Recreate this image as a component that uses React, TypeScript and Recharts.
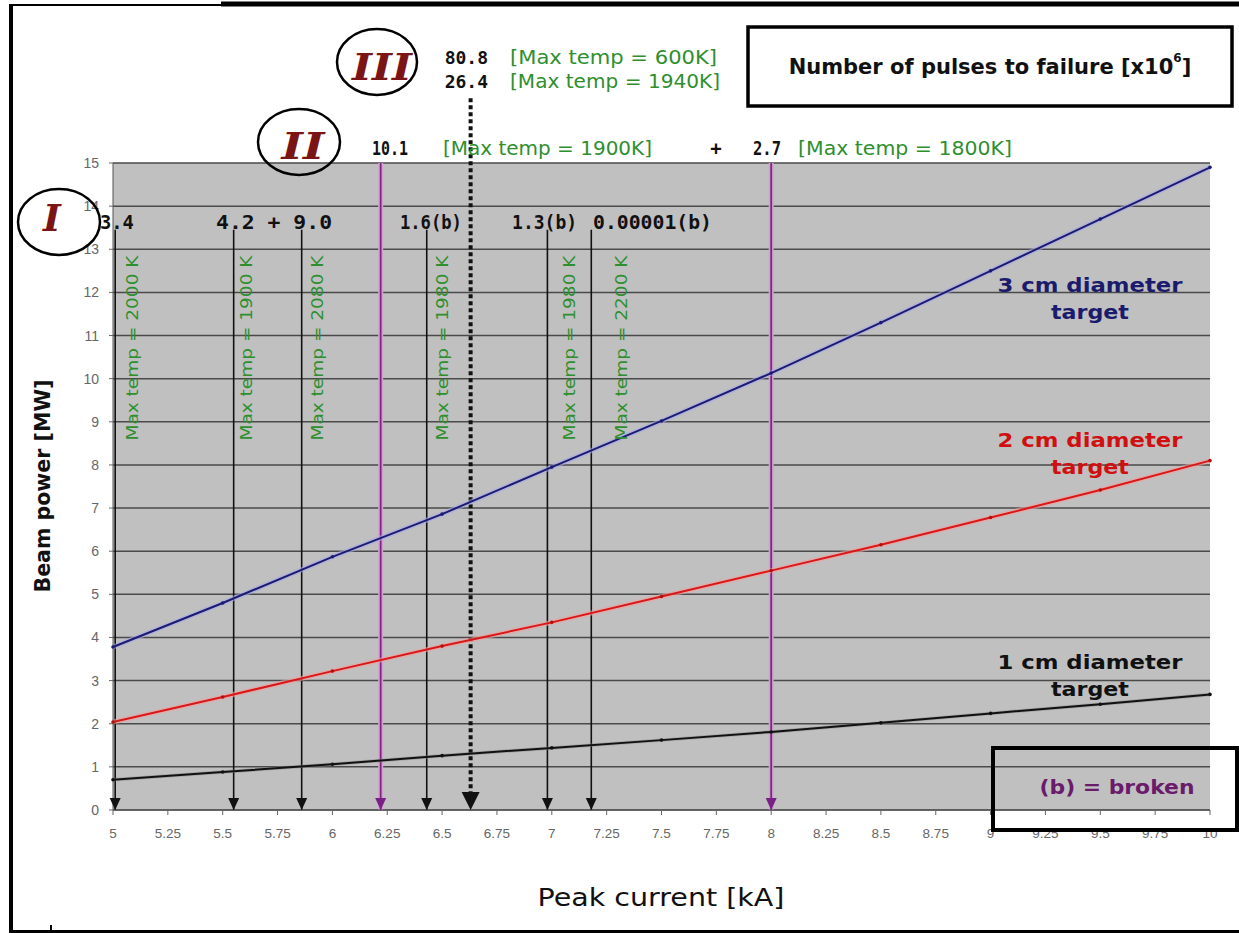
import React from 'react';
import { LineChart, Line, XAxis, YAxis, CartesianGrid, ReferenceLine, ReferenceDot } from 'recharts';

// ---- data ----
const currents = [5, 5.5, 6, 6.5, 7, 7.5, 8, 8.5, 9, 9.5, 10];
const power3cm = [3.78, 4.8, 5.87, 6.86, 7.95, 9.02, 10.13, 11.3, 12.5, 13.7, 14.9];
const power2cm = [2.04, 2.62, 3.22, 3.8, 4.35, 4.95, 5.55, 6.15, 6.78, 7.42, 8.1];
const power1cm = [0.7, 0.88, 1.06, 1.26, 1.44, 1.62, 1.81, 2.02, 2.24, 2.45, 2.68];

const xTicks = [5, 5.25, 5.5, 5.75, 6, 6.25, 6.5, 6.75, 7, 7.25, 7.5, 7.75, 8, 8.25, 8.5, 8.75, 9, 9.25, 9.5, 9.75, 10];
const xTickLabels = ['5', '5.25', '5.5', '5.75', '6', '6.25', '6.5', '6.75', '7', '7.25', '7.5', '7.75', '8', '8.25', '8.5', '8.75', '9', '9.25', '9.5', '9.75', '10'];
const yTicks = [0, 1, 2, 3, 4, 5, 6, 7, 8, 9, 10, 11, 12, 13, 14, 15];

// regime I failure currents (black arrows)
const regimeICurrents = [5.01, 5.55, 5.86, 6.43, 6.98, 7.18];
const regimeIArrowTop = 13.45;
const regimeILabelY = 13.63;
const regimeILabelCurrents = [5.018, 5.734, 6.449, 6.967, 7.459];
const regimeILabels = ['3.4', '4.2 + 9.0', '1.6(b)', '1.3(b)', '0.00001(b)'];
const regimeILabelWidths = [34, 116, 62, 65, 119];

// rotated max-temperature labels
const tempLabelCurrents = [5.087, 5.61, 5.93, 6.5, 7.08, 7.32];
const tempLabels = ['Max temp = 2000 K', 'Max temp = 1900 K', 'Max temp = 2080 K', 'Max temp = 1980 K', 'Max temp = 1980 K', 'Max temp = 2200 K'];
const tempLabelY = 10.71;

// regime II (purple) and III (dotted)
const regimeIICurrents = [6.22, 8.0];
const regimeIIICurrent = 6.63;
const regimeIIITop = 16.5;

// series labels
const seriesLabelX = 9.453;
const seriesLabelY = [12.17, 8.58, 3.43];
const seriesLabelColors = ['#1b1b6e', '#d01010', '#111111'];
const seriesLabelTexts = ['3 cm diameter', '2 cm diameter', '1 cm diameter'];

const rows = currents.map((c, i) => ({ current: c, p3: power3cm[i], p2: power2cm[i], p1: power1cm[i] }));

const GREEN = '#2e8f2e';
const COMIC = '"DejaVu Sans", sans-serif';
const MONO = '"DejaVu Sans Mono", monospace';

const arrowHead = (key: string, x: number, color: string, w: number, h: number) => (
  <ReferenceDot
    key={key}
    x={x}
    y={0}
    ifOverflow="visible"
    shape={(p: any) => (
      <polygon points={`${p.cx - w / 2},${p.cy - h} ${p.cx + w / 2},${p.cy - h} ${p.cx},${p.cy}`} fill={color} />
    )}
  />
);

export default function App() {
  return (
    <div style={{ position: 'absolute', left: 0, top: 0, width: 1239, height: 933, background: '#fff', overflow: 'hidden' }}>
      <LineChart width={1239} height={933} data={rows} margin={{ top: 163, right: 29, bottom: 93, left: 53 }}>
        <CartesianGrid vertical={false} fill="#c0c0c0" stroke="#4a4a4a" strokeWidth={1.5} />
        <XAxis
          type="number"
          dataKey="current"
          domain={[5, 10]}
          ticks={xTicks}
          interval={0}
          height={30}
          tickSize={5}
          tickMargin={13}
          tickFormatter={(v: number, i: number) => xTickLabels[i] ?? String(v)}
          tick={{ fontSize: 13.5, fill: '#666', fontFamily: '"Liberation Sans", Arial, sans-serif' }}
          axisLine={{ stroke: '#555' }}
          tickLine={{ stroke: '#666' }}
        />
        <YAxis
          type="number"
          domain={[0, 15]}
          ticks={yTicks}
          interval={0}
          width={60}
          tickSize={4}
          tickMargin={10}
          tick={{ fontSize: 14, fill: '#666', fontFamily: '"Liberation Sans", Arial, sans-serif' }}
          axisLine={{ stroke: '#555' }}
          tickLine={{ stroke: '#666' }}
        />

        {/* regime II purple lines */}
        {regimeIICurrents.map((x) => (
          <ReferenceLine key={'ph' + x} segment={[{ x, y: 15 }, { x, y: 0 }]} stroke="#d4a0d4" strokeWidth={5} ifOverflow="visible" />
        ))}
        {regimeIICurrents.map((x) => (
          <ReferenceLine key={'p' + x} segment={[{ x, y: 15 }, { x, y: 0 }]} stroke="#7a2a7a" strokeWidth={1.8} ifOverflow="visible" />
        ))}
        {regimeIICurrents.map((x) => arrowHead('pa' + x, x, '#7a1f86', 11, 12))}

        {/* regime I black arrows */}
        {regimeICurrents.map((x) => (
          <ReferenceLine key={'b' + x} segment={[{ x, y: regimeIArrowTop }, { x, y: 0 }]} stroke="#111" strokeWidth={1.6} ifOverflow="visible" />
        ))}
        {regimeICurrents.map((x) => arrowHead('ba' + x, x, '#111', 11, 12))}

        {/* regime III dotted arrow */}
        <ReferenceLine
          segment={[{ x: regimeIIICurrent, y: regimeIIITop }, { x: regimeIIICurrent, y: 0.4 }]}
          stroke="#111"
          strokeWidth={4}
          strokeDasharray="4 3"
          ifOverflow="visible"
        />
        {arrowHead('da', regimeIIICurrent, '#111', 18, 18)}

        {/* halos */}
        <Line dataKey="p3" stroke="#a8a8e8" strokeWidth={5} strokeOpacity={0.6} dot={false} isAnimationActive={false} />
        <Line dataKey="p2" stroke="#f0a0a0" strokeWidth={5} strokeOpacity={0.6} dot={false} isAnimationActive={false} />
        <Line dataKey="p1" stroke="#888" strokeWidth={3.5} strokeOpacity={0.5} dot={false} isAnimationActive={false} />
        {/* series */}
        <Line dataKey="p3" stroke="#1b1b72" strokeWidth={2} dot={{ r: 1.8, fill: '#1b1b72', stroke: 'none' }} isAnimationActive={false} />
        <Line dataKey="p2" stroke="#d81818" strokeWidth={2} dot={{ r: 1.8, fill: '#b01010', stroke: 'none' }} isAnimationActive={false} />
        <Line dataKey="p1" stroke="#111" strokeWidth={2} dot={{ r: 1.8, fill: '#111', stroke: 'none' }} isAnimationActive={false} />

        {/* rotated temperature labels */}
        {tempLabelCurrents.map((x, i) => (
          <ReferenceDot
            key={'t' + i}
            x={x}
            y={tempLabelY}
            ifOverflow="visible"
            shape={(p: any) => (
              <text
                x={p.cx}
                y={p.cy}
                transform={`rotate(-90 ${p.cx} ${p.cy})`}
                textAnchor="middle"
                dominantBaseline="central"
                fontSize={16}
                fontFamily={COMIC}
                fill={GREEN}
                textLength={185}
                lengthAdjust="spacingAndGlyphs"
              >
                {tempLabels[i]}
              </text>
            )}
          />
        ))}

        {/* regime I pulse counts */}
        {regimeILabelCurrents.map((x, i) => (
          <ReferenceDot
            key={'n' + i}
            x={x}
            y={regimeILabelY}
            ifOverflow="visible"
            shape={(p: any) => (
              <text
                x={p.cx}
                y={p.cy}
                textAnchor="middle"
                dominantBaseline="central"
                fontSize={19}
                fontWeight="bold"
                fontFamily={MONO}
                fill="#111"
                textLength={regimeILabelWidths[i]}
                lengthAdjust="spacingAndGlyphs"
              >
                {regimeILabels[i]}
              </text>
            )}
          />
        ))}

        {/* series labels */}
        {seriesLabelY.map((y, i) => (
          <ReferenceDot
            key={'s' + i}
            x={seriesLabelX}
            y={y}
            ifOverflow="visible"
            shape={(p: any) => (
              <g>
                <text x={p.cx} y={p.cy} textAnchor="middle" dominantBaseline="central" fontSize={20} fontWeight="bold" fontFamily={COMIC} fill={seriesLabelColors[i]} textLength={185} lengthAdjust="spacingAndGlyphs">
                  {seriesLabelTexts[i]}
                </text>
                <text x={p.cx} y={p.cy + 27} textAnchor="middle" dominantBaseline="central" fontSize={20} fontWeight="bold" fontFamily={COMIC} fill={seriesLabelColors[i]} textLength={78} lengthAdjust="spacingAndGlyphs">
                  target
                </text>
              </g>
            )}
          />
        ))}
      </LineChart>

      <svg width={1239} height={933} style={{ position: 'absolute', left: 0, top: 0, pointerEvents: 'none' }}>
        {/* frame */}
        <line x1={11} y1={6} x2={11} y2={933} stroke="#000" strokeWidth={4} />
        <line x1={9} y1={5} x2={221} y2={5} stroke="#000" strokeWidth={2} />
        <line x1={221} y1={4} x2={1239} y2={4} stroke="#000" strokeWidth={5} />
        <line x1={9} y1={931.5} x2={1239} y2={931.5} stroke="#000" strokeWidth={3} />
        <line x1={51} y1={925} x2={51} y2={931} stroke="#000" strokeWidth={2} />

        {/* title box */}
        <rect x={748} y={27} width={484} height={79} fill="#fff" stroke="#000" strokeWidth={3.5} />
        <text x={990} y={67} textAnchor="middle" dominantBaseline="central" fontSize={21} fontWeight="bold" fontFamily={COMIC} fill="#111">
          <tspan>Number of pulses to failure [x10</tspan>
          <tspan fontSize={12} dy={-9}>6</tspan>
          <tspan dy={9}>]</tspan>
        </text>

        {/* regime III numbers */}
        <text x={488} y={57} textAnchor="end" dominantBaseline="central" fontSize={18} fontWeight="bold" fontFamily={MONO} fill="#111">80.8</text>
        <text x={488} y={81} textAnchor="end" dominantBaseline="central" fontSize={18} fontWeight="bold" fontFamily={MONO} fill="#111">26.4</text>
        <text x={510} y={57} dominantBaseline="central" fontSize={19} fontFamily={COMIC} fill={GREEN} textLength={207} lengthAdjust="spacingAndGlyphs">[Max temp = 600K]</text>
        <text x={510} y={81} dominantBaseline="central" fontSize={19} fontFamily={COMIC} fill={GREEN} textLength={210} lengthAdjust="spacingAndGlyphs">[Max temp = 1940K]</text>

        {/* regime II numbers */}
        <text x={372} y={148} dominantBaseline="central" fontSize={19} fontWeight="bold" fontFamily={MONO} fill="#111" textLength={36} lengthAdjust="spacingAndGlyphs">10.1</text>
        <text x={443} y={148} dominantBaseline="central" fontSize={19} fontFamily={COMIC} fill={GREEN} textLength={209} lengthAdjust="spacingAndGlyphs">[Max temp = 1900K]</text>
        <text x={716} y={148} textAnchor="middle" dominantBaseline="central" fontSize={19} fontWeight="bold" fontFamily={MONO} fill="#111">+</text>
        <text x={753} y={148} dominantBaseline="central" fontSize={19} fontWeight="bold" fontFamily={MONO} fill="#111" textLength={28} lengthAdjust="spacingAndGlyphs">2.7</text>
        <text x={798} y={148} dominantBaseline="central" fontSize={19} fontFamily={COMIC} fill={GREEN} textLength={214} lengthAdjust="spacingAndGlyphs">[Max temp = 1800K]</text>

        {/* roman numerals */}
        <ellipse cx={59} cy={222} rx={41} ry={33} fill="none" stroke="#000" strokeWidth={2.5} />
        <ellipse cx={299} cy={142} rx={41} ry={33} fill="none" stroke="#000" strokeWidth={2.5} />
        <ellipse cx={377} cy={62} rx={40} ry={33} fill="none" stroke="#000" strokeWidth={2.5} />
        <text x={52} y={217} textAnchor="middle" dominantBaseline="central" fontSize={38} fontWeight="bold" fontStyle="italic" fontFamily='"DejaVu Serif", serif' fill="#7b1515">I</text>
        <text x={303} y={145} textAnchor="middle" dominantBaseline="central" fontSize={38} fontWeight="bold" fontStyle="italic" fontFamily='"DejaVu Serif", serif' fill="#7b1515" textLength={43} lengthAdjust="spacingAndGlyphs">II</text>
        <text x={382} y={66} textAnchor="middle" dominantBaseline="central" fontSize={38} fontWeight="bold" fontStyle="italic" fontFamily='"DejaVu Serif", serif' fill="#7b1515" textLength={60} lengthAdjust="spacingAndGlyphs">III</text>

        {/* axis titles */}
        <text x={43} y={486} transform="rotate(-90 43 486)" textAnchor="middle" dominantBaseline="central" fontSize={21} fontWeight="bold" fontFamily={COMIC} fill="#111" textLength={213} lengthAdjust="spacingAndGlyphs">Beam power [MW]</text>
        <text x={661} y={897} textAnchor="middle" dominantBaseline="central" fontSize={25} fontFamily={COMIC} fill="#111" textLength={247} lengthAdjust="spacingAndGlyphs">Peak current [kA]</text>

        {/* broken legend */}
        <rect x={993} y={748} width={244} height={82} fill="none" stroke="#000" strokeWidth={4} />
        <text x={1117} y={787} textAnchor="middle" dominantBaseline="central" fontSize={20} fontWeight="bold" fontFamily={COMIC} fill="#6a1b6a" textLength={155} lengthAdjust="spacingAndGlyphs">(b) = broken</text>
      </svg>
    </div>
  );
}
